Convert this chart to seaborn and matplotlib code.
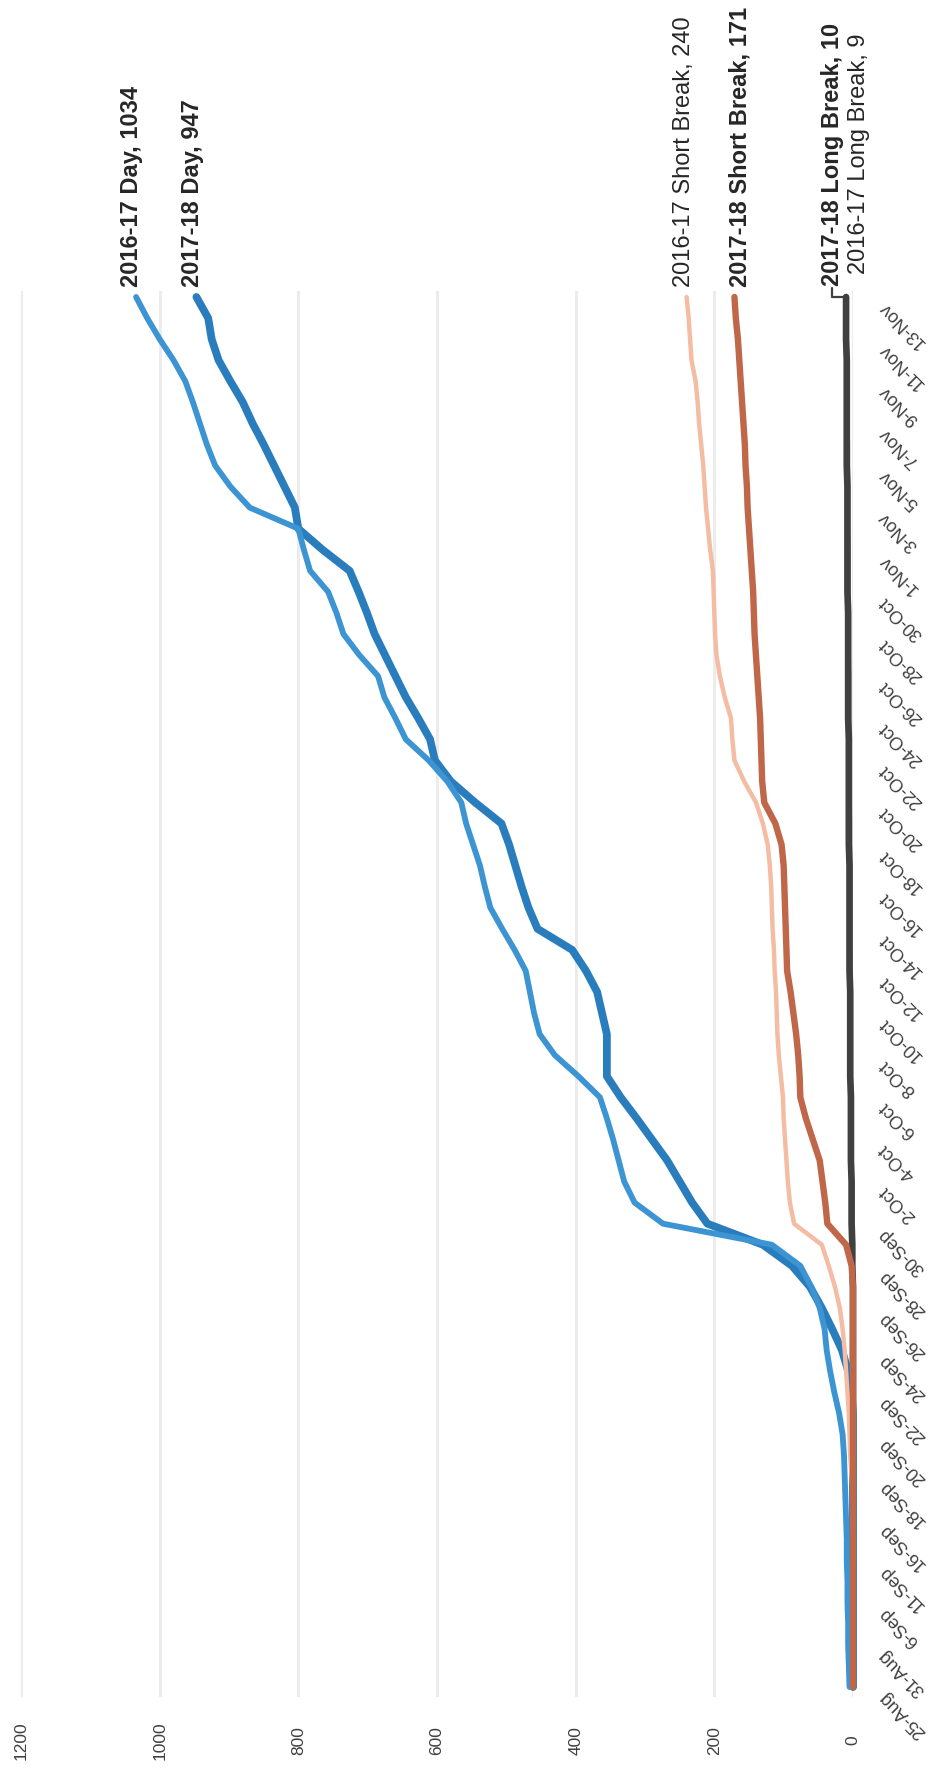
import numpy as np
import pandas as pd
import matplotlib
matplotlib.use("Agg")
import matplotlib.pyplot as plt
import seaborn as sns

# ---------------- data ----------------
early_dates = ["25-Aug", "28-Aug", "31-Aug", "4-Sep", "6-Sep", "8-Sep", "11-Sep", "13-Sep"]
later_dates = [f"{d.day}-{d.strftime('%b')}" for d in pd.date_range("2017-09-16", "2017-11-13")]
categories = early_dates + later_dates          # 67 categories
tick_labels = categories[::2]

value_ticks = [0, 200, 400, 600, 800, 1000, 1200]

day_1617 = [5, 6, 7, 7, 8, 8, 9, 9, 10, 11,
            12, 13, 15, 20, 27, 33, 38, 41, 48, 60,
            76, 117, 274, 315, 330, 338, 346, 355, 365, 396,
            430, 452, 460, 466, 472, 488, 506, 523, 531, 538,
            548, 558, 565, 585, 612, 645, 660, 676, 685, 712,
            735, 745, 757, 783, 792, 800, 870, 898, 920, 932,
            942, 952, 963, 980, 1000, 1018, 1034]

day_1718 = [0, 0, 0, 0, 0, 0, 0, 0, 0, 0,
            0, 0, 0, 0, 2, 7, 16, 30, 45, 62,
            88, 130, 210, 232, 250, 268, 290, 312, 335, 355,
            355, 355, 362, 369, 385, 405, 455, 468, 478, 487,
            496, 507, 545, 580, 603, 610, 627, 645, 660, 675,
            690, 701, 713, 726, 765, 800, 805, 820, 835, 850,
            866, 880, 898, 915, 925, 930, 947]

sb_1617 = [0, 0, 0, 0, 0, 0, 0, 0, 0, 0,
           2, 4, 5, 6, 8, 10, 12, 15, 19, 26,
           35, 45, 85, 91, 94, 96, 98, 100, 101, 104,
           107, 109, 110, 111, 113, 114, 116, 117, 118, 120,
           123, 130, 140, 157, 171, 174, 176, 185, 192, 197,
           199, 200, 201, 202, 206, 209, 212, 214, 216, 219,
           222, 224, 227, 233, 235, 237, 240]

sb_1718 = [0, 0, 0, 0, 0, 0, 0, 0, 0, 0,
           0, 0, 0, 0, 0, 0, 0, 0, 0, 0,
           2, 10, 37, 40, 44, 48, 58, 68, 76, 77,
           79, 82, 86, 90, 95, 96, 97, 98, 99, 100,
           103, 112, 128, 131, 132, 133, 134, 136, 138, 140,
           142, 143, 144, 146, 148, 150, 152, 153, 155, 156,
           158, 160, 162, 164, 166, 169, 171]

lb_1617 = [0, 0, 0, 0, 0, 0, 0, 0, 0, 0,
           0, 0, 1, 1, 1, 1, 1, 1, 1, 1,
           2, 2, 2, 2, 2, 2, 2, 2, 3, 3,
           3, 3, 3, 3, 3, 4, 4, 4, 4, 4,
           4, 4, 5, 5, 5, 5, 5, 5, 5, 6,
           6, 6, 6, 6, 6, 7, 7, 7, 7, 7,
           8, 8, 8, 8, 9, 9, 9]

lb_1718 = [0, 0, 0, 0, 0, 0, 0, 0, 0, 0,
           0, 0, 0, 0, 0, 0, 0, 0, 0, 0,
           1, 1, 2, 2, 2, 3, 3, 3, 3, 4,
           4, 4, 4, 4, 5, 5, 5, 5, 5, 5,
           6, 6, 6, 6, 6, 6, 7, 7, 7, 7,
           7, 7, 8, 8, 8, 8, 8, 8, 9, 9,
           9, 9, 9, 9, 10, 10, 10]

series_names = ["2016-17 Long Break", "2017-18 Long Break", "2017-18 Day",
                "2016-17 Day", "2016-17 Short Break", "2017-18 Short Break"]
series_values = [lb_1617, lb_1718, day_1718, day_1617, sb_1617, sb_1718]

# ---------------- style ----------------
sns.set_theme(style="white")
plt.rcParams["font.family"] = ["Liberation Sans", "DejaVu Sans"]

colors = {"2016-17 Long Break": "#A6A6A6", "2017-18 Long Break": "#404040",
          "2017-18 Day": "#2A7DBD", "2016-17 Day": "#3C94D3",
          "2016-17 Short Break": "#F3BCA3", "2017-18 Short Break": "#C0674A"}
widths = {"2016-17 Long Break": 3.0, "2017-18 Long Break": 4.8,
          "2017-18 Day": 5.6, "2016-17 Day": 4.2,
          "2016-17 Short Break": 3.2, "2017-18 Short Break": 4.6}

W, H = 934, 1774
fig = plt.figure(figsize=(W / 100, H / 100), dpi=100)
x_left, x_right = 21, 853
y_top, y_bot = 291.7, 1697.5
ax = fig.add_axes([x_left / W, (H - y_bot) / H, (x_right - x_left) / W, (y_bot - y_top) / H])

idx = np.arange(len(categories))
for z, (name, vals) in enumerate(zip(series_names, series_values)):
    sns.lineplot(x=vals, y=idx, orient="y", sort=False, estimator=None, ax=ax,
                 color=colors[name], linewidth=widths[name], zorder=3 + z,
                 solid_capstyle="round", clip_on=False)

ax.set_xlim(1200, 0)
ax.set_ylim(-0.45, 66.3)
ax.set_xlabel("")
ax.set_ylabel("")

# value axis (bottom, rotated)
ax.set_xticks(value_ticks)
ax.set_xticklabels([str(v) for v in value_ticks], rotation=90, va="center", ha="center",
                   fontsize=12.5, color="#404040")
ax.tick_params(axis="x", length=0, pad=31)

# category axis (right, rotated 135 deg)
ax.yaxis.tick_right()
ax.set_yticks(idx[::2])
ax.set_yticklabels(tick_labels, rotation=135, rotation_mode="anchor", ha="right", va="bottom",
                   fontsize=13, color="#404040")
ax.tick_params(axis="y", length=0, pad=25)

ax.xaxis.grid(True, color="#ECECEC", linewidth=2.2)
ax.yaxis.grid(False)
ax.set_axisbelow(True)
for s in ax.spines.values():
    s.set_visible(False)

# series end labels
label_specs = {
    "2016-17 Day": (-3, 8, "bold"),
    "2017-18 Day": (-3, 8, "bold"),
    "2016-17 Short Break": (-2, 8, "normal"),
    "2017-18 Short Break": (4, 8, "bold"),
}
last = len(categories) - 1
for name, vals in zip(series_names, series_values):
    if name in label_specs:
        dx, dy, wt = label_specs[name]
        ax.annotate(f"{name}, {vals[-1]}", xy=(vals[-1], last), xytext=(dx, dy),
                    textcoords="offset points", rotation=90, rotation_mode="anchor",
                    ha="left", va="center", fontsize=17, fontweight=wt,
                    color="#262626", annotation_clip=False)

ax.annotate(f"2017-18 Long Break, {lb_1718[-1]}", xy=(lb_1718[-1], last), xytext=(-10, 9),
            textcoords="offset points", rotation=90, rotation_mode="anchor",
            ha="left", va="center", fontsize=17, fontweight="bold", color="#262626",
            annotation_clip=False,
            arrowprops=dict(arrowstyle="-", color="#404040", lw=1.6, shrinkA=0, shrinkB=0,
                            relpos=(0.5, 0.0),
                            connectionstyle="angle,angleA=90,angleB=0,rad=0"))
ax.annotate(f"2016-17 Long Break, {lb_1617[-1]}", xy=(lb_1617[-1], last), xytext=(9, 17),
            textcoords="offset points", rotation=90, rotation_mode="anchor",
            ha="left", va="center", fontsize=17, fontweight="normal", color="#262626",
            annotation_clip=False)

fig.savefig("out.png", dpi=100)
